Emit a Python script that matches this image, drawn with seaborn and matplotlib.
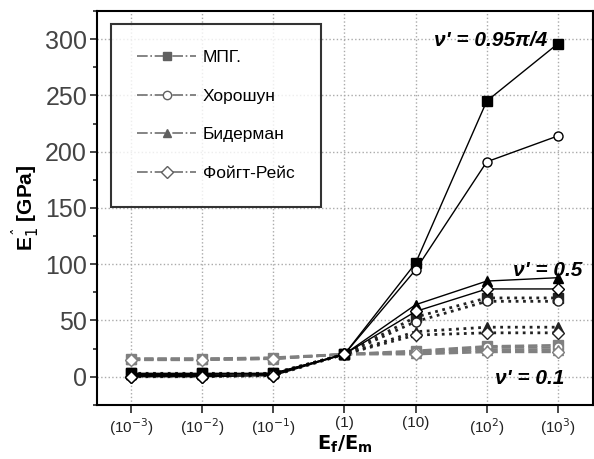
import matplotlib
matplotlib.use("Agg")
import matplotlib.pyplot as plt
import seaborn as sns
from matplotlib.lines import Line2D
from matplotlib.ticker import MultipleLocator

# E_f/E_m ratio as powers of ten
ratio_exp = [-3, -2, -1, 0, 1, 2, 3]
ratio_labels = ["(10$^{-3}$)", "(10$^{-2}$)", "(10$^{-1}$)", "(1)",
                "(10)", "(10$^{2}$)", "(10$^{3}$)"]

methods = ["МПГ.", "Хорошун", "Бидерман", "Фойгт-Рейс"]

# nu' = 0.95*pi/4
mpg_a = [3, 3, 3, 20, 101, 245, 296]
khor_a = [1, 1, 2, 20, 95, 191, 214]
bid_a = [2, 2, 3, 20, 64, 85, 88]
voigt_a = [0, 0, 1, 20, 58, 78, 78]
# nu' = 0.5
mpg_b = [3, 3, 3, 20, 53, 70, 70]
khor_b = [1, 1, 2, 20, 49, 67, 67]
bid_b = [2, 2, 3, 20, 40, 44, 44]
voigt_b = [0, 0, 1, 20, 37, 39, 39]
# nu' = 0.1
mpg_c = [16, 16, 17, 20, 23, 27, 28]
khor_c = [15, 15, 16, 20, 22, 26, 26]
bid_c = [16, 16, 16, 20, 21, 24, 24]
voigt_c = [15, 15, 16, 20, 20, 22, 22]

sns.set_style("ticks")
plt.rcParams["font.family"] = ["Liberation Sans", "DejaVu Sans"]

fig = plt.figure(figsize=(5.94, 4.59), dpi=100)
ax = fig.add_axes([0.163, 0.118, 0.835, 0.858])

markers = ["s", "o", "^", "D"]
fills = [True, False, True, False]
groups = [
    ([mpg_a, khor_a, bid_a, voigt_a], "-", 1.0, "black"),
    ([mpg_b, khor_b, bid_b, voigt_b], ":", 2.0, "#222222"),
    ([mpg_c, khor_c, bid_c, voigt_c], "--", 1.8, "#808080"),
]
# draw low groups first so solid curves sit on top
for series, ls, lw, col in reversed(groups):
    for vals, mk, filled in zip(series, markers, fills):
        sns.lineplot(x=ratio_exp, y=vals, ax=ax, color=col, linestyle=ls,
                     linewidth=lw, marker=mk,
                     markersize=6.5 if mk != "D" else 6,
                     markerfacecolor=col if filled else "white",
                     markeredgecolor=col, markeredgewidth=1.0)

ax.set_xlim(-3.48, 3.49)
ax.set_ylim(-25, 325)
ax.set_xticks(ratio_exp)
ax.set_xticklabels(ratio_labels, fontsize=11, color="#222222")
ax.yaxis.set_major_locator(MultipleLocator(50))
ax.yaxis.set_minor_locator(MultipleLocator(25))
ax.tick_params(axis="y", labelsize=18, labelcolor="#444444", length=5, width=1.2, pad=2)
ax.tick_params(axis="y", which="minor", length=3, width=1.2)
ax.tick_params(axis="x", length=6, width=1.2, pad=2)
ax.grid(True, which="major", linestyle=":", color="#aaaaaa", linewidth=1.0)
for sp in ax.spines.values():
    sp.set_visible(True)
    sp.set_linewidth(1.5)
    sp.set_color("black")

ax.set_xlabel(r"$\mathbf{E_f/E_m}$", fontsize=14, labelpad=-3, color="black")
ax.set_ylabel("E$^{ˆ}_{1}$ [GPa]", fontsize=15, fontweight="bold", labelpad=2,
              color="black")

ann = dict(fontsize=15, fontweight="bold", fontstyle="italic", ha="center",
           va="center", color="black")
ax.text(2.05, 299, "ν' = 0.95π/4", **ann)
ax.text(2.85, 94, "ν' = 0.5", **ann)
ax.text(2.6, -2, "ν' = 0.1", **ann)

handles = []
for name, mk, filled in zip(methods, markers, fills):
    handles.append(Line2D([], [], color="#707070", linestyle="-.", linewidth=1.2,
                          marker=mk, markersize=6,
                          markerfacecolor="#606060" if filled else "white",
                          markeredgecolor="#606060", label=name))
leg = ax.legend(handles=handles, loc="upper left", bbox_to_anchor=(0.018, 0.98),
                fontsize=12.5, frameon=True, fancybox=False, edgecolor="black",
                handlelength=3.4, labelspacing=1.35, borderpad=1.5,
                handletextpad=0.4, borderaxespad=0.3)
leg.get_frame().set_linewidth(1.5)
for t in leg.get_texts():
    t.set_color("black")

fig.savefig("out.png", dpi=100)
